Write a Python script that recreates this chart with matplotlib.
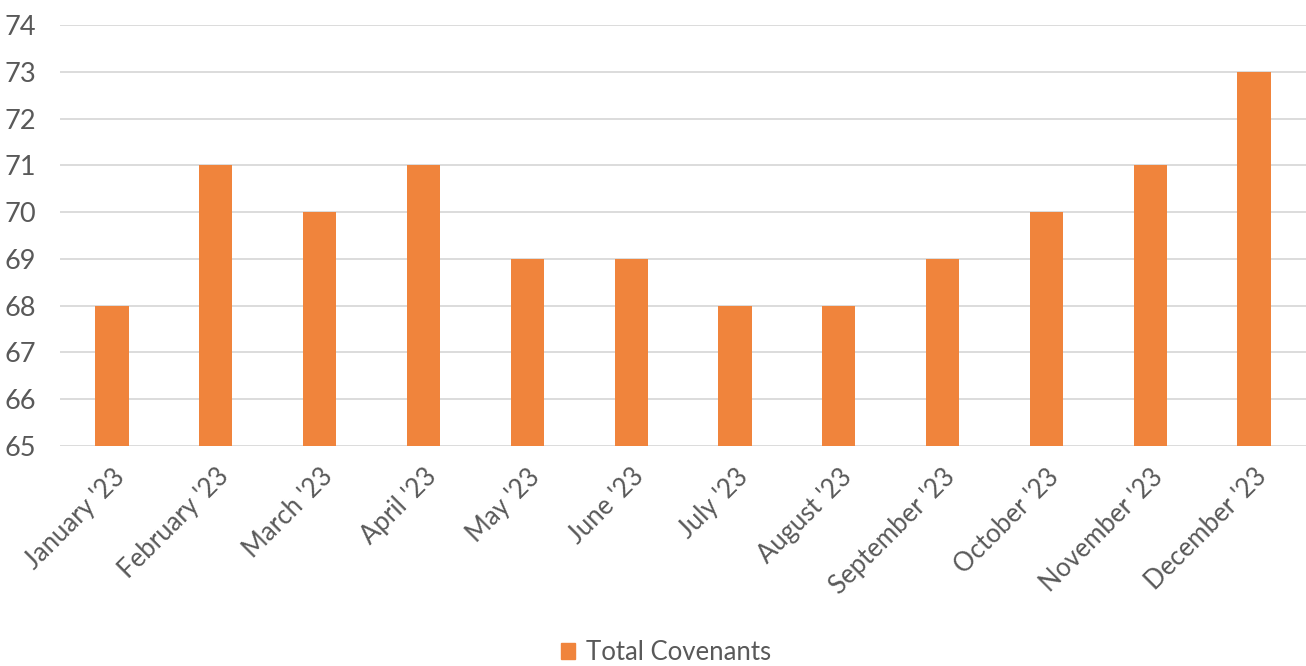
import matplotlib
matplotlib.use("Agg")
import matplotlib.pyplot as plt
from matplotlib.patches import Patch

months = ["January '23", "February '23", "March '23", "April '23", "May '23", "June '23",
          "July '23", "August '23", "September '23", "October '23", "November '23", "December '23"]
total_covenants = [68, 71, 70, 71, 69, 69, 68, 68, 69, 70, 71, 73]
series_name = "Total Covenants"

plt.rcParams['font.family'] = ['Lato', 'DejaVu Sans']
bar_color = "#F0843C"
text_color = "#595959"
grid_color = "#D9D9D9"

fig = plt.figure(figsize=(13.06, 6.66), dpi=100)
ax = fig.add_axes([0.046, 0.3303, 0.954, 0.6322])

x = list(range(len(months)))
ax.bar(x, [v - 65 for v in total_covenants], bottom=65, width=0.32, color=bar_color, zorder=3)
ax.set_xlim(-0.5, len(months) - 0.5)
ax.set_ylim(65, 74)
ax.set_yticks(range(65, 75))
ax.yaxis.grid(True, color=grid_color, linewidth=1.3, zorder=0)
ax.set_xticks(x)
ax.set_xticklabels(months, rotation=45, ha='right', rotation_mode='anchor', fontsize=18.5, color=text_color)
ax.tick_params(axis='y', labelsize=19.5, colors=text_color, length=0, pad=17)
ax.tick_params(axis='x', length=0, pad=13)
for s in ax.spines.values():
    s.set_visible(False)

fig.legend(handles=[Patch(color=bar_color, label=series_name)], loc='center', bbox_to_anchor=(0.51, 0.02),
           frameon=False, fontsize=18.5, labelcolor=text_color, handlelength=0.55, handleheight=0.55, handletextpad=0.45)

fig.savefig("out.png", dpi=100)
